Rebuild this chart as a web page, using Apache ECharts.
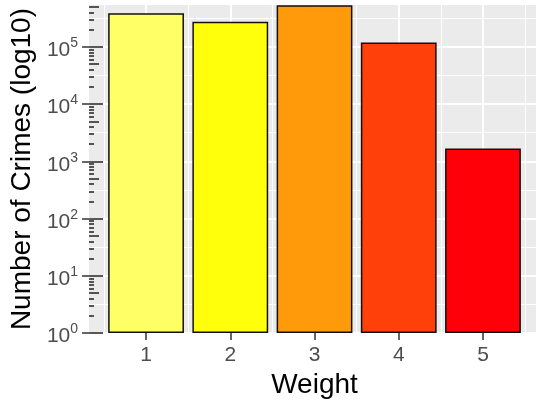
<!DOCTYPE html>
<html>
<head>
<meta charset="utf-8">
<script src="https://cdn.jsdelivr.net/npm/echarts@6/dist/echarts.min.js"></script>
<style>
    html, body { margin: 0; padding: 0; background: #fff; overflow: hidden; }
    /* panel runs a little past the right edge of the picture */
    #crimeChart { width: 540px; height: 404px; }
</style>
</head>
<body>
<div id="crimeChart"></div>
<script>
// weight categories and crime counts
var weights = [1, 2, 3, 4, 5];
var crimeCounts = [385000, 275000, 530000, 119000, 1680];
var barColors = ['#FFFF66', '#FFFF0C', '#FF9A0A', '#FF400B', '#FF0008'];

// axis settings
var yMin = 1;
var yMax = 537000;
var xMin = 0.323;
var xMax = 5.677;
var decadeExps = [0, 1, 2, 3, 4, 5];
var halfDecadeExps = [0.5, 1.5, 2.5, 3.5, 4.5, 5.5];
var xMinorBreaks = [0.5, 1.5, 2.5, 3.5, 4.5, 5.5];

var TICK_FONT = "'Liberation Sans', Arial, sans-serif";

$ready(function () {
    initBarChart();
});

function $ready(fn) {
    if (document.readyState !== 'loading') fn();
    else document.addEventListener('DOMContentLoaded', fn);
}

// log tick marks inside the panel (like annotation_logticks)
function logTicks(mults) {
    var res = [];
    for (var i = 0; i < decadeExps.length; i++) {
        for (var j = 0; j < mults.length; j++) {
            var v = decadeExps[i] + Math.log10(mults[j]);
            if (v <= Math.log10(yMax)) res.push(v);
        }
    }
    return res;
}

// helper for the overlay axes (exponent units, same pixels as the log axis)
function expAxis(tick, splitLine) {
    return {
        type: 'value',
        position: 'left',
        min: 0,
        max: Math.log10(yMax),
        axisLine: {show: false},
        axisLabel: {show: false},
        axisTick: tick,
        splitLine: splitLine || {show: false}
    };
}

function initBarChart() {
    var myChart = echarts.init(document.getElementById('crimeChart'));
    var barData = [];
    for (var i = 0; i < weights.length; i++) {
        barData.push([weights[i], crimeCounts[i]]);
    }

    var option = {
        animation: false,
        color: barColors,
        grid: {
            left: 89,
            top: 5,
            right: 0,
            bottom: 69,
            show: true,
            backgroundColor: '#EBEBEB',
            borderWidth: 0
        },
        xAxis: [{
            type: 'value',
            min: xMin,
            max: xMax,
            name: 'Weight',
            nameLocation: 'middle',
            nameGap: 36,
            nameTextStyle: {color: '#000', fontSize: 28, fontFamily: TICK_FONT},
            axisLine: {show: false},
            axisTick: {
                customValues: weights,
                length: 7,
                lineStyle: {color: '#333', width: 1.5}
            },
            axisLabel: {
                customValues: weights,
                margin: 12,
                color: '#4D4D4D',
                fontSize: 21,
                fontFamily: TICK_FONT
            },
            splitLine: {show: true, lineStyle: {color: '#fff', width: 2}}
        }, {
            type: 'value',
            min: xMin,
            max: xMax,
            axisLine: {show: false},
            axisLabel: {show: false},
            axisTick: {show: false, customValues: xMinorBreaks},
            splitLine: {show: true, lineStyle: {color: '#fff', width: 1}}
        }],
        yAxis: [{
            type: 'log',
            logBase: 10,
            min: yMin,
            max: yMax,
            name: 'Number of Crimes (log10)',
            nameLocation: 'middle',
            nameGap: 50,
            nameTextStyle: {color: '#000', fontSize: 28, fontFamily: TICK_FONT},
            axisLine: {show: false},
            axisTick: {show: false},
            splitLine: {show: false},
            axisLabel: {
                margin: 11,
                formatter: function (v) {
                    var e = Math.log10(v);
                    if (Math.abs(e - Math.round(e)) > 1e-6) return '';
                    return '{b|10}{s|' + Math.round(e) + '}';
                },
                rich: {
                    b: {color: '#4D4D4D', fontSize: 21, fontFamily: TICK_FONT, padding: [7, 0, 0, 0]},
                    s: {color: '#4D4D4D', fontSize: 14, fontFamily: TICK_FONT, padding: [0, 0, 7, 0]}
                }
            }
        },
            // major grid + outside ticks
            expAxis({customValues: decadeExps, length: 7, lineStyle: {color: '#333', width: 1.5}},
                {show: true, lineStyle: {color: '#fff', width: 2}}),
            // minor grid at half decades
            expAxis({show: false, customValues: halfDecadeExps},
                {show: true, lineStyle: {color: '#fff', width: 1}}),
            // log ticks inside: long, mid, short
            expAxis({inside: true, customValues: decadeExps, length: 14, lineStyle: {color: '#222', width: 1.5}}),
            expAxis({inside: true, customValues: logTicks([5]), length: 10, lineStyle: {color: '#222', width: 1.5}}),
            expAxis({inside: true, customValues: logTicks([2, 3, 4, 6, 7, 8, 9]), length: 5, lineStyle: {color: '#222', width: 1.5}})
        ],
        series: [{
            name: 'Crimes',
            type: 'bar',
            xAxisIndex: 0,
            yAxisIndex: 0,
            colorBy: 'data',
            barWidth: '90%',
            data: barData,
            itemStyle: {
                borderColor: '#111',
                borderWidth: 1.5
            }
        }]
    };
    myChart.setOption(option);
}
</script>
</body>
</html>
